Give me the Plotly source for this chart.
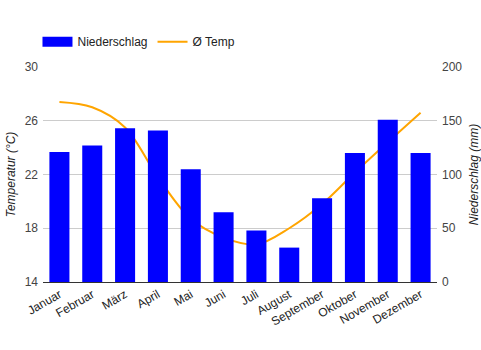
import plotly.graph_objects as go

months = ["Januar", "Februar", "März", "April", "Mai", "Juni", "Juli",
          "August", "September", "Oktober", "November", "Dezember"]
niederschlag = [121, 127, 143, 141, 105, 65, 48, 32, 78, 120, 151, 120]
temp = [27.4, 27.0, 25.5, 21.8, 18.7, 17.3, 16.8, 18.0, 19.8, 22.15, 24.4, 26.6]

temp_ticks = [14, 18, 22, 26, 30]
precip_ticks = [0, 50, 100, 150, 200]

font_family = "Liberation Sans, Arial, sans-serif"
bar_color = "#0000FF"
line_color = "#FFA500"

fig = go.Figure()
fig.add_trace(go.Bar(
    x=months, y=niederschlag, name="Niederschlag",
    marker=dict(color=bar_color, line=dict(width=0)),
    yaxis="y2", showlegend=False, legendgroup="n",
))
# legend entry for the bars drawn as a wide box like the original
fig.add_trace(go.Scatter(
    x=[None], y=[None], name="Niederschlag", mode="lines",
    line=dict(color=bar_color, width=12), yaxis="y2", legendgroup="n",
))
fig.add_trace(go.Scatter(
    x=months, y=temp, name="Ø Temp", mode="lines",
    line=dict(color=line_color, width=2, shape="spline", smoothing=1.0),
    yaxis="y",
))

fig.update_layout(
    width=481, height=350,
    margin=dict(l=43, r=44, t=67, b=68),
    paper_bgcolor="white", plot_bgcolor="white",
    font=dict(family=font_family, size=12, color="#222"),
    bargap=0.39,
    showlegend=True,
    legend=dict(orientation="h", x=-0.014, xanchor="left", y=1.118, yanchor="middle",
                font=dict(size=12, color="#222"), traceorder="normal",
                bgcolor="rgba(0,0,0,0)"),
    xaxis=dict(tickangle=-30, showgrid=False, showline=True, linecolor="#333",
               linewidth=1, ticks="", tickfont=dict(size=12, color="#222"),
               range=[-0.5, 11.5], automargin=False),
    yaxis=dict(range=[14, 30], tickvals=temp_ticks, showgrid=True, gridcolor="#cccccc",
               zeroline=False, showline=False, ticks="", ticklabelstandoff=4,
               tickfont=dict(size=12, color="#444"), automargin=False,
               title=dict(text="<i>Temperatur (°C)</i>", font=dict(size=12, color="#222"),
                          standoff=6)),
    yaxis2=dict(range=[0, 200], tickvals=precip_ticks, overlaying="y", side="right",
                showgrid=False, zeroline=False, showline=False, ticks="",
                ticklabelstandoff=4, tickfont=dict(size=12, color="#444"), automargin=False,
                title=dict(text="<i>Niederschlag (mm)</i>", font=dict(size=12, color="#222"),
                           standoff=12)),
)

fig.write_html("out.html")
